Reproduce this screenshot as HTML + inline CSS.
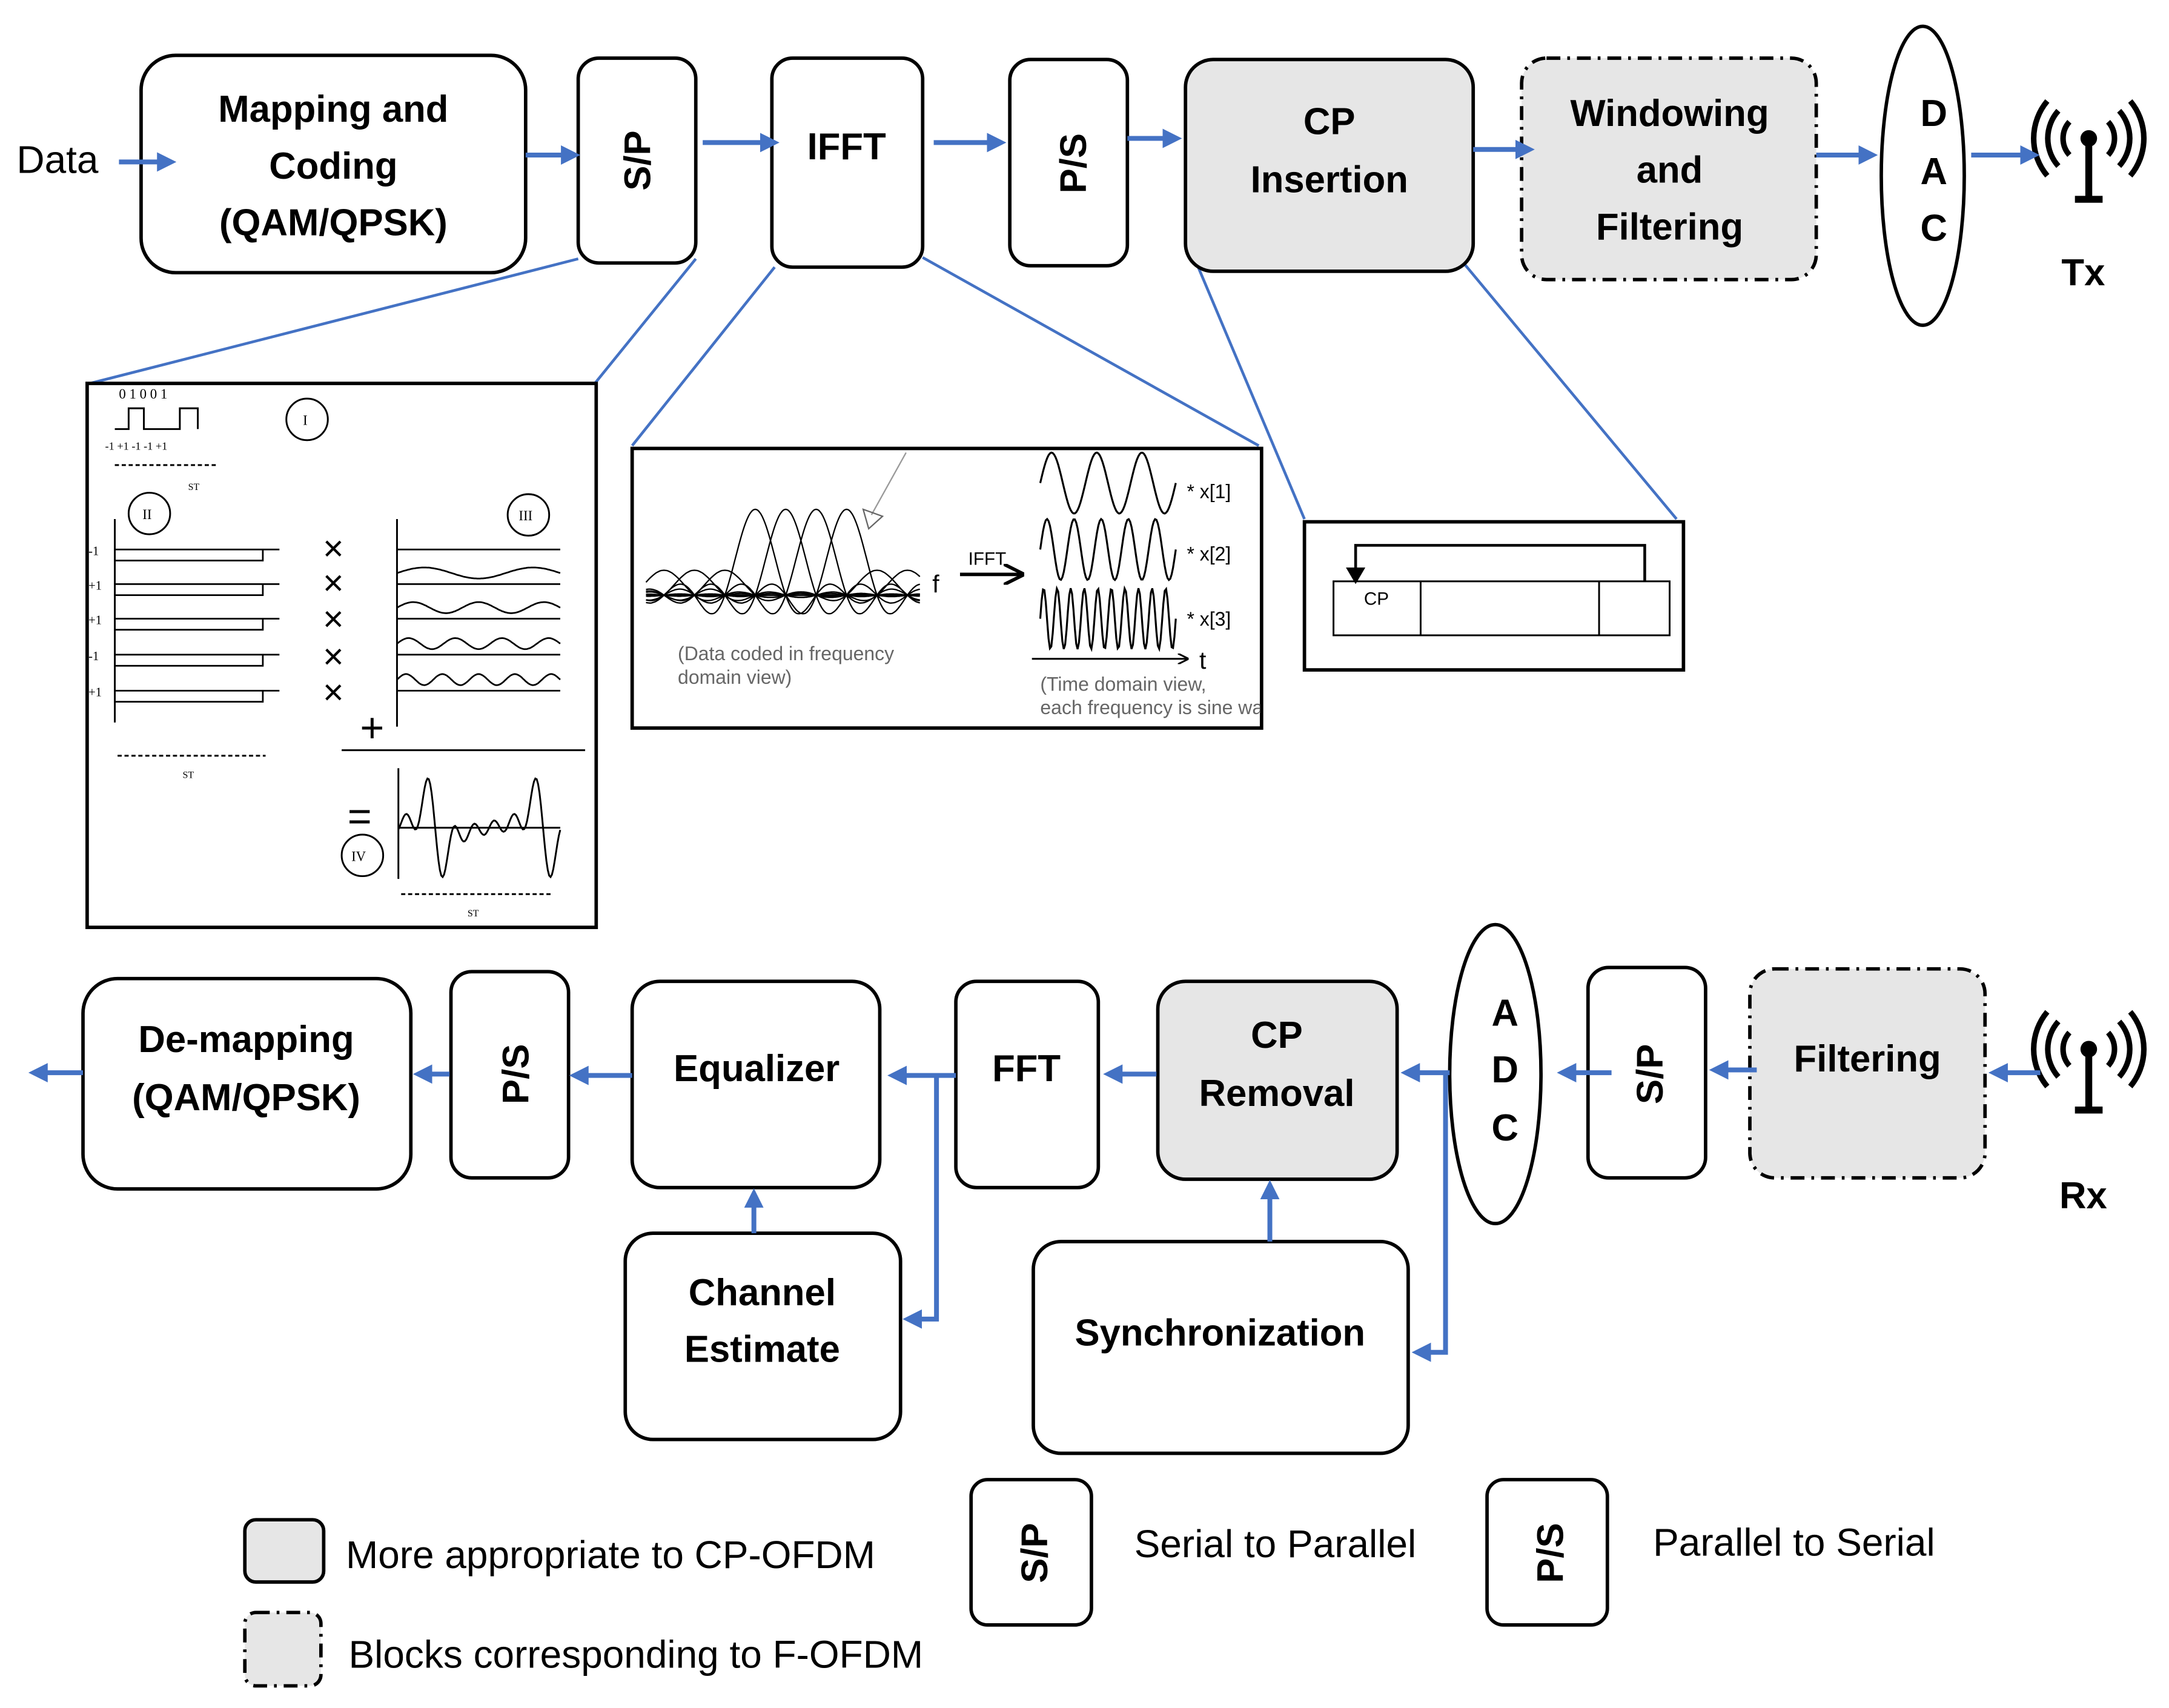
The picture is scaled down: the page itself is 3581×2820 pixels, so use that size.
<!DOCTYPE html>
<html><head><meta charset="utf-8"><style>
html,body{margin:0;padding:0;background:#fff;}
svg{display:block}
.b{font-family:"Liberation Sans",sans-serif;font-weight:bold;font-size:27px;fill:#000;text-anchor:middle}
.n{font-family:"Liberation Sans",sans-serif;font-size:28px;fill:#000}
.s{font-family:"Liberation Serif",serif;font-size:10px;fill:#000}
.g{font-family:"Liberation Sans",sans-serif;font-size:14px;fill:#666}
.box{fill:#fff;stroke:#000;stroke-width:2.5}
.gray{fill:#e6e6e6;stroke:#000;stroke-width:2.5}
.dd{fill:#e6e6e6;stroke:#000;stroke-width:2.5;stroke-dasharray:10 5 2 5}
.ar{stroke:#4472c4;stroke-width:3.5;fill:none}
.cn{stroke:#4472c4;stroke-width:2;fill:none}
.k{stroke:#000;fill:none;stroke-width:1.3}
</style></head><body>
<svg id="s" width="3581" height="2820" viewBox="0 0 1568 1234" preserveAspectRatio="none" xmlns="http://www.w3.org/2000/svg">
<defs>
<marker id="a" markerWidth="4" markerHeight="4" refX="3" refY="2" orient="auto" markerUnits="strokeWidth"><path d="M0,0 L4,2 L0,4 z" fill="#4472c4"/></marker>
<marker id="ka" markerWidth="6" markerHeight="6" refX="5" refY="3" orient="auto" markerUnits="strokeWidth"><path d="M0,0 L6,3 L0,6" fill="none" stroke="#000"/></marker>
</defs>
<path class="cn" d="M418,187 L65,277 M503,187 L430,277 M560,193 L457,322 M667,186 L910,322 M862,183 L943,375 M1058,190 L1212,375"/>
<text class="n" x="12" y="125">Data</text>
<rect class="box" x="102" y="40" width="278" height="157" rx="25"/>
<text class="b" x="241" y="88">Mapping and</text><text class="b" x="241" y="129">Coding</text><text class="b" x="241" y="170">(QAM/QPSK)</text>
<rect class="box" x="418" y="42" width="85" height="148" rx="15"/>
<text class="b" transform="translate(470,116) rotate(-90)">S/P</text>
<rect class="box" x="558" y="42" width="109" height="151" rx="15"/>
<text class="b" x="612" y="115">IFFT</text>
<rect class="box" x="730" y="43" width="85" height="149" rx="15"/>
<text class="b" transform="translate(785,118) rotate(-90)">P/S</text>
<rect class="gray" x="857" y="43" width="208" height="153" rx="20"/>
<text class="b" x="961" y="97">CP</text><text class="b" x="961" y="139">Insertion</text>
<rect class="dd" x="1100" y="42" width="213" height="160" rx="18"/>
<text class="b" x="1207" y="91">Windowing</text><text class="b" x="1207" y="132">and</text><text class="b" x="1207" y="173">Filtering</text>
<ellipse cx="1390" cy="127" rx="30" ry="108" fill="#fff" stroke="#000" stroke-width="2.5"/>
<text class="b" x="1398" y="91">D</text><text class="b" x="1398" y="133">A</text><text class="b" x="1398" y="174">C</text>
<g id="ant" transform="translate(1510,100)">
<circle cx="0" cy="0" r="6" fill="#000"/><path d="M0,0 L0,42 M-10,44 L10,44" stroke="#000" stroke-width="5"/>
<path d="M-14,-12 A18,18 0 0 0 -14,12 M14,-12 A18,18 0 0 1 14,12 M-22,-20 A30,30 0 0 0 -22,20 M22,-20 A30,30 0 0 1 22,20 M-30,-27 A42,42 0 0 0 -30,27 M30,-27 A42,42 0 0 1 30,27" stroke="#000" stroke-width="4" fill="none"/>
</g>
<text class="b" x="1506" y="206">Tx</text>
<rect x="63" y="277" width="368" height="393" fill="#fff" stroke="#000" stroke-width="2.5"/>
<text class="s" x="86" y="288">0 1 0 0 1</text>
<path class="k" d="M83,310 L93,310 L93,295 L104,295 L104,310 L130,310 L130,295 L143,295 L143,310"/>
<text class="s" x="76" y="325" style="font-size:8px">-1 +1 -1 -1 +1</text>
<path class="k" stroke-dasharray="3 2" d="M83,336 L157,336"/><text class="s" x="136" y="354" style="font-size:7px">ST</text>
<circle cx="222" cy="303" r="15" class="k"/><text class="s" x="219" y="307">I</text>
<circle cx="108" cy="371" r="15" class="k"/><text class="s" x="103" y="375">II</text>
<circle cx="382" cy="372" r="15" class="k"/><text class="s" x="375" y="376">III</text>
<path class="k" d="M83,375 L83,522 M287,375 L287,525"/>
<g id="lh"></g>
<g font-family="Liberation Sans" font-size="26" text-anchor="middle"><text x="241" y="405">×</text><text x="241" y="430">×</text><text x="241" y="456">×</text><text x="241" y="483">×</text><text x="241" y="509">×</text></g>
<text x="269" y="536" font-family="Liberation Sans" font-size="30" text-anchor="middle">+</text>
<path class="k" d="M247,542 L423,542"/>
<text x="260" y="600" font-family="Liberation Sans" font-size="30" text-anchor="middle">=</text>
<circle cx="262" cy="618" r="15" class="k"/><text class="s" x="254" y="622">IV</text>
<path class="k" d="M288,555 L288,635 M288,598 L405,598"/>
<path id="sum" class="k"/>
<path class="k" stroke-dasharray="3 2" d="M85,546 L192,546 M290,646 L398,646"/><text class="s" x="132" y="562" style="font-size:7px">ST</text><text class="s" x="338" y="662" style="font-size:7px">ST</text>
<rect x="457" y="324" width="455" height="202" fill="#fff" stroke="#000" stroke-width="2.5"/>
<path class="k" d="M467,430 L665,430"/>
<g id="sinc"></g>
<text x="674" y="428" font-family="Liberation Sans" font-size="18">f</text>
<path d="M655,327 L630,372" stroke="#999" stroke-width="1"/><path d="M624,368 L638,373 L628,382 z" fill="none" stroke="#666"/>
<path d="M694,415 L738,415" stroke="#000" stroke-width="2.5" marker-end="url(#ka)"/>
<text x="700" y="408" font-family="Liberation Sans" font-size="13">IFFT</text>
<g id="sines"></g>
<text x="858" y="360" font-family="Liberation Sans" font-size="14">* x[1]</text>
<text x="858" y="405" font-family="Liberation Sans" font-size="14">* x[2]</text>
<text x="858" y="452" font-family="Liberation Sans" font-size="14">* x[3]</text>
<path class="k" d="M746,476 L858,476" marker-end="url(#ka)"/><text x="867" y="483" font-family="Liberation Sans" font-size="18">t</text>
<text class="g" x="490" y="477">(Data coded in frequency</text><text class="g" x="490" y="494">domain view)</text>
<svg x="745" y="480" width="166" height="45"><text class="g" x="7" y="19">(Time domain view,</text><text class="g" x="7" y="36">each frequency is sine wave</text></svg>
<rect x="943" y="377" width="274" height="107" fill="#fff" stroke="#000" stroke-width="2.5"/>
<rect x="964" y="420" width="243" height="39" fill="#fff" stroke="#000" stroke-width="1.3"/>
<path class="k" d="M1027,420 L1027,459 M1156,420 L1156,459"/>
<path d="M1189,420 L1189,394 L980,394 L980,412" stroke="#000" stroke-width="2" fill="none"/><path d="M973,410 L987,410 L980,422 z" fill="#000"/>
<text x="986" y="437" font-family="Liberation Sans" font-size="13">CP</text>
<rect class="box" x="60" y="707" width="237" height="152" rx="25"/>
<text class="b" x="178" y="760">De-mapping</text><text class="b" x="178" y="802">(QAM/QPSK)</text>
<rect class="box" x="326" y="702" width="85" height="149" rx="15"/>
<text class="b" transform="translate(382,776) rotate(-90)">P/S</text>
<rect class="box" x="457" y="709" width="179" height="149" rx="20"/>
<text class="b" x="547" y="781">Equalizer</text>
<rect class="box" x="452" y="891" width="199" height="149" rx="20"/>
<text class="b" x="551" y="943">Channel</text><text class="b" x="551" y="984">Estimate</text>
<rect class="box" x="691" y="709" width="103" height="149" rx="15"/>
<text class="b" x="742" y="781">FFT</text>
<rect class="gray" x="837" y="709" width="173" height="143" rx="20"/>
<text class="b" x="923" y="757">CP</text><text class="b" x="923" y="799">Removal</text>
<rect class="box" x="747" y="897" width="271" height="153" rx="20"/>
<text class="b" x="882" y="972">Synchronization</text>
<ellipse cx="1081" cy="776" rx="33" ry="108" fill="#fff" stroke="#000" stroke-width="2.5"/>
<text class="b" x="1088" y="741">A</text><text class="b" x="1088" y="782">D</text><text class="b" x="1088" y="824">C</text>
<rect class="box" x="1148" y="699" width="85" height="152" rx="15"/>
<text class="b" transform="translate(1202,776) rotate(-90)">S/P</text>
<rect class="dd" x="1265" y="700" width="170" height="151" rx="18"/>
<text class="b" x="1350" y="774">Filtering</text>
<use href="#ant" transform="translate(0,658)"/>
<text class="b" x="1506" y="873">Rx</text>
<rect class="gray" x="177" y="1098" width="57" height="45" rx="8"/>
<text class="n" x="250" y="1133">More appropriate to CP-OFDM</text>
<rect class="dd" x="177" y="1165" width="55" height="53" rx="8"/>
<text class="n" x="252" y="1205">Blocks corresponding to F-OFDM</text>
<rect class="box" x="702" y="1069" width="87" height="105" rx="12"/>
<text class="b" transform="translate(757,1122) rotate(-90)">S/P</text>
<text class="n" x="820" y="1125">Serial to Parallel</text>
<rect class="box" x="1075" y="1069" width="87" height="105" rx="12"/>
<text class="b" transform="translate(1130,1122) rotate(-90)">P/S</text>
<text class="n" x="1195" y="1124">Parallel to Serial</text>
<path class="ar" marker-end="url(#a)" d="M86,117 L124,117"/>
<path class="ar" marker-end="url(#a)" d="M380,112 L416,112"/>
<path class="ar" marker-end="url(#a)" d="M508,103 L560,103"/>
<path class="ar" marker-end="url(#a)" d="M675,103 L724,103"/>
<path class="ar" marker-end="url(#a)" d="M815,100 L851,100"/>
<path class="ar" marker-end="url(#a)" d="M1065,108 L1106,108"/>
<path class="ar" marker-end="url(#a)" d="M1313,112 L1354,112"/>
<path class="ar" marker-end="url(#a)" d="M1425,112 L1471,112"/>
<path class="ar" marker-end="url(#a)" d="M60,775 L24,775"/>
<path class="ar" marker-end="url(#a)" d="M325,776 L302,776"/>
<path class="ar" marker-end="url(#a)" d="M457,777 L415,777"/>
<path class="ar" marker-end="url(#a)" d="M691,777 L645,777"/>
<path class="ar" marker-end="url(#a)" d="M677,777 L677,953 L656,953"/>
<path class="ar" marker-end="url(#a)" d="M545,891 L545,862"/>
<path class="ar" marker-end="url(#a)" d="M836,776 L801,776"/>
<path class="ar" marker-end="url(#a)" d="M918,897 L918,856"/>
<path class="ar" marker-end="url(#a)" d="M1048,775 L1016,775"/>
<path class="ar" marker-end="url(#a)" d="M1045,775 L1045,977 L1024,977"/>
<path class="ar" marker-end="url(#a)" d="M1165,775 L1129,775"/>
<path class="ar" marker-end="url(#a)" d="M1270,773 L1239,773"/>
<path class="ar" marker-end="url(#a)" d="M1475,775 L1441,775"/>
</svg>
<script>
var NS="http://www.w3.org/2000/svg";
function P(d,g,w){var p=document.createElementNS(NS,"path");p.setAttribute("d",d);p.setAttribute("fill","none");p.setAttribute("stroke","#000");p.setAttribute("stroke-width",w||1.2);document.getElementById(g).appendChild(p);}
var ys=[397,422,447,473,499],lb=["-1","+1","+1","-1","+1"];
ys.forEach(function(y,i){
 P("M83,"+y+" L202,"+y+" M83,"+(y+8)+" L190,"+(y+8)+" L190,"+y,"lh");
 P("M287,"+y+" L405,"+y,"lh");
 var t=document.createElementNS(NS,"text");t.setAttribute("x",64);t.setAttribute("y",y+4);t.setAttribute("font-size","9");t.setAttribute("font-family","Liberation Serif");t.textContent=lb[i];document.getElementById("lh").appendChild(t);
 if(i>0){var d="";for(var x=287;x<=405;x+=1){var yy=y-8-4*Math.sin((x-287)/118*Math.PI*2*(i+0.5));d+=(x==287?"M":"L")+x+","+yy.toFixed(1);}P(d,"lh");}
});
var d="";for(var x=288;x<=405;x++){var t=(x-288)/117;var v=0;for(var k=1;k<=5;k++)v+=Math.sin(2*Math.PI*k*t*1.5+k)*(k%2?1:-1);d+=(x==288?"M":"L")+x+","+(598-v*9).toFixed(1);}
document.getElementById("sum").setAttribute("d",d);
for(var c=0;c<9;c++){var cx=480+c*22;var d="";for(var x=467;x<=665;x++){var u=(x-cx)/22*Math.PI;var s=u==0?1:Math.sin(u)/u;var amp=(c>=3&&c<=6)?62:18;d+=(x==467?"M":"L")+x+","+(430-amp*s).toFixed(1);}P(d,"sinc",1);}
[[349,3],[397,5],[447,10]].forEach(function(a){var d="";for(var x=752;x<=850;x++){d+=(x==752?"M":"L")+x+","+(a[0]-22*Math.sin((x-752)/98*Math.PI*2*a[1])).toFixed(1);}P(d,"sines",1.4);});
</script>
</body></html>
